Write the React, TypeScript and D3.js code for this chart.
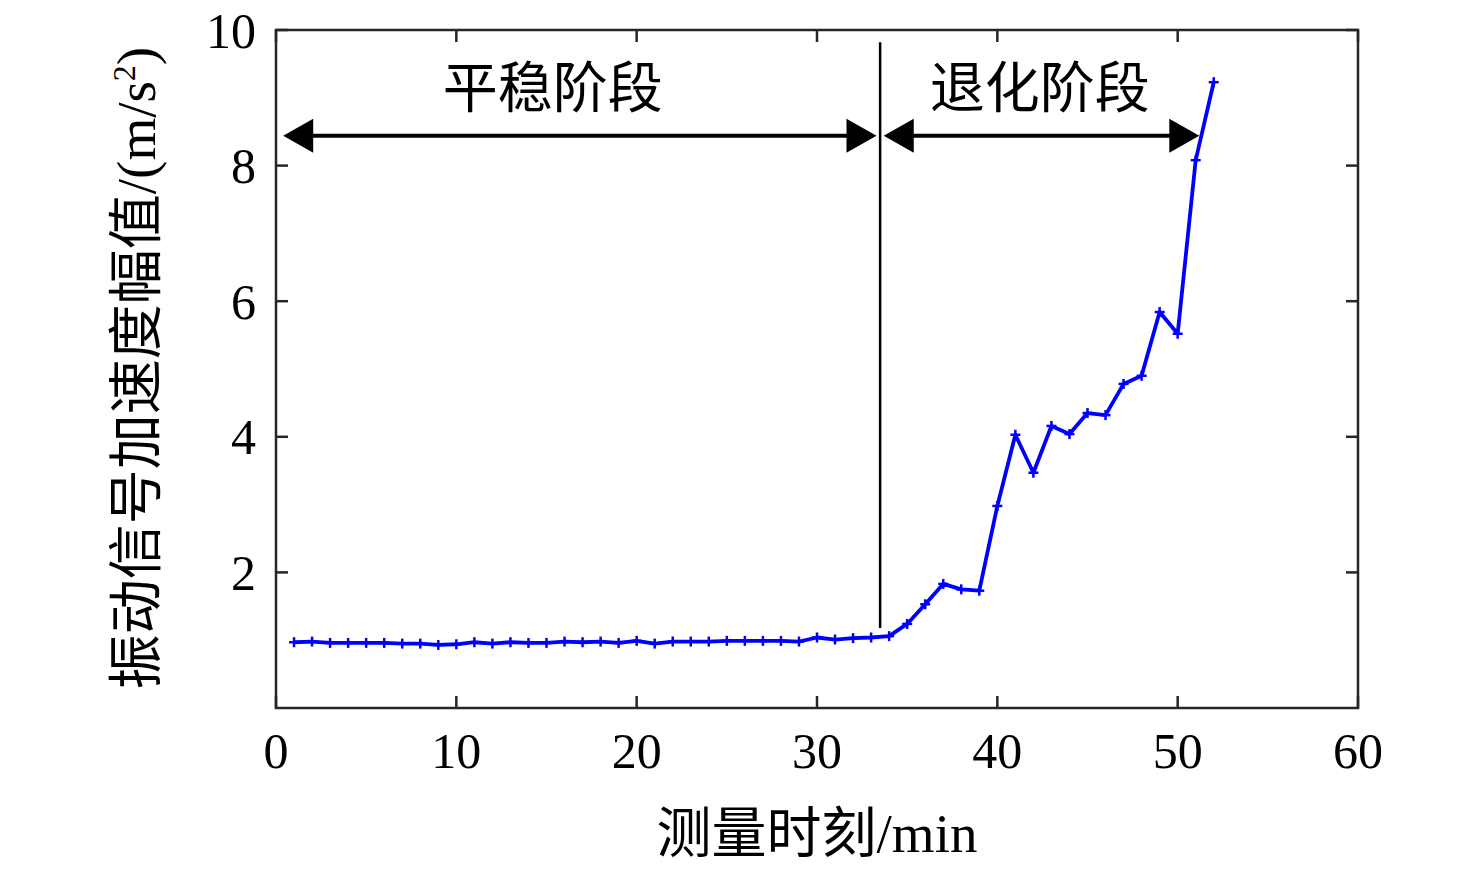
import * as d3 from 'd3';

const times = [1, 2, 3, 4, 5, 6, 7, 8, 9, 10, 11, 12, 13, 14, 15, 16, 17, 18, 19, 20, 21, 22, 23, 24, 25, 26,
  27, 28, 29, 30, 31, 32, 33, 34, 35, 36, 37, 38, 39, 40, 41, 42, 43, 44, 45, 46, 47, 48, 49, 50, 51, 52];
const amplitude = [0.97, 0.98, 0.96, 0.96, 0.96, 0.96, 0.95, 0.95, 0.93, 0.94, 0.97, 0.95, 0.97, 0.96, 0.96, 0.98,
  0.97, 0.98, 0.96, 0.99, 0.95, 0.98, 0.98, 0.98, 0.99, 0.99, 0.99, 0.99, 0.98, 1.04, 1.01, 1.03, 1.04, 1.06,
  1.24, 1.53, 1.83, 1.75, 1.73, 2.98, 4.03, 3.47, 4.16, 4.04, 4.35, 4.32, 4.78, 4.9, 5.84, 5.52, 8.08, 9.23];

const xTicks = [0, 10, 20, 30, 40, 50, 60];
const yTicks = [2, 4, 6, 8, 10];

const phaseLabels = ['平稳阶段', '退化阶段'];
const phaseFrom = [0.4, 33.7];
const phaseTo = [33.3, 51.2];
const phaseLabelX = [15.35, 42.35];
const dividerX = 33.5;
const dividerY = [1.18, 9.82];
const arrowY = 8.44;
const labelY = 9.17;

const W = 1476;
const H = 869;
const FONT = '"Liberation Serif", "Times New Roman", "Noto Sans CJK SC", serif';
const AXIS = '#262626';

export default function App() {
  const x = d3.scaleLinear().domain([0, 60]).range([276, 1358]);
  const y = d3.scaleLinear().domain([0, 10]).range([708, 30]);
  const line = d3.line<number>().x((_, i) => x(times[i])).y((d) => y(d));
  const tick = 12;
  const ah = 30; // arrowhead length
  const aw = 17; // arrowhead half width

  return (
    <svg width={W} height={H} style={{ position: 'absolute', left: 0, top: 0, background: '#fff' }}>
      {/* frame */}
      <rect x={x(0)} y={y(10)} width={x(60) - x(0)} height={y(0) - y(10)} fill="none" stroke={AXIS} strokeWidth={2.5} />
      {xTicks.map((t) => (
        <g key={'x' + t}>
          <line x1={x(t)} x2={x(t)} y1={y(0)} y2={y(0) - tick} stroke={AXIS} strokeWidth={2.5} />
          <line x1={x(t)} x2={x(t)} y1={y(10)} y2={y(10) + tick} stroke={AXIS} strokeWidth={2.5} />
          <text x={x(t)} y={768} textAnchor="middle" fontFamily={FONT} fontSize={50} fill="#000">{t}</text>
        </g>
      ))}
      {yTicks.map((t) => (
        <g key={'y' + t}>
          <line x1={x(0)} x2={x(0) + tick} y1={y(t)} y2={y(t)} stroke={AXIS} strokeWidth={2.5} />
          <line x1={x(60)} x2={x(60) - tick} y1={y(t)} y2={y(t)} stroke={AXIS} strokeWidth={2.5} />
          <text x={256} y={y(t)} dy="0.35em" textAnchor="end" fontFamily={FONT} fontSize={50} fill="#000">{t}</text>
        </g>
      ))}

      {/* axis titles */}
      <text x={817} y={852} textAnchor="middle" fontFamily={FONT} fontSize={55} fill="#000">测量时刻/min</text>
      <text transform={`translate(155, 368) rotate(-90)`} textAnchor="middle" fontFamily={FONT} fontSize={55} fill="#000">
        振动信号加速度幅值/(m/s<tspan dy={-20} fontSize={32}>2</tspan><tspan dy={20}>)</tspan>
      </text>

      {/* divider */}
      <line x1={x(dividerX)} x2={x(dividerX)} y1={y(dividerY[0])} y2={y(dividerY[1])} stroke="#000" strokeWidth={2.5} />

      {/* phase arrows */}
      {phaseLabels.map((lab, i) => {
        const x0 = x(phaseFrom[i]);
        const x1 = x(phaseTo[i]);
        const yy = y(arrowY);
        return (
          <g key={lab}>
            <line x1={x0 + ah - 2} x2={x1 - ah + 2} y1={yy} y2={yy} stroke="#000" strokeWidth={4} />
            <path d={`M${x0},${yy} L${x0 + ah},${yy - aw} L${x0 + ah},${yy + aw} Z`} fill="#000" />
            <path d={`M${x1},${yy} L${x1 - ah},${yy - aw} L${x1 - ah},${yy + aw} Z`} fill="#000" />
            <text x={x(phaseLabelX[i])} y={y(labelY)} dy="0.38em" textAnchor="middle" fontFamily={FONT} fontSize={55} fill="#000">{lab}</text>
          </g>
        );
      })}

      {/* series */}
      <path d={line(amplitude) ?? ''} fill="none" stroke="#0000ff" strokeWidth={3.8} strokeLinejoin="round" />
      {amplitude.map((v, i) => (
        <g key={i} stroke="#0000ff" strokeWidth={2.5}>
          <line x1={x(times[i]) - 5} x2={x(times[i]) + 5} y1={y(v)} y2={y(v)} />
          <line x1={x(times[i])} x2={x(times[i])} y1={y(v) - 5} y2={y(v) + 5} />
        </g>
      ))}
    </svg>
  );
}
